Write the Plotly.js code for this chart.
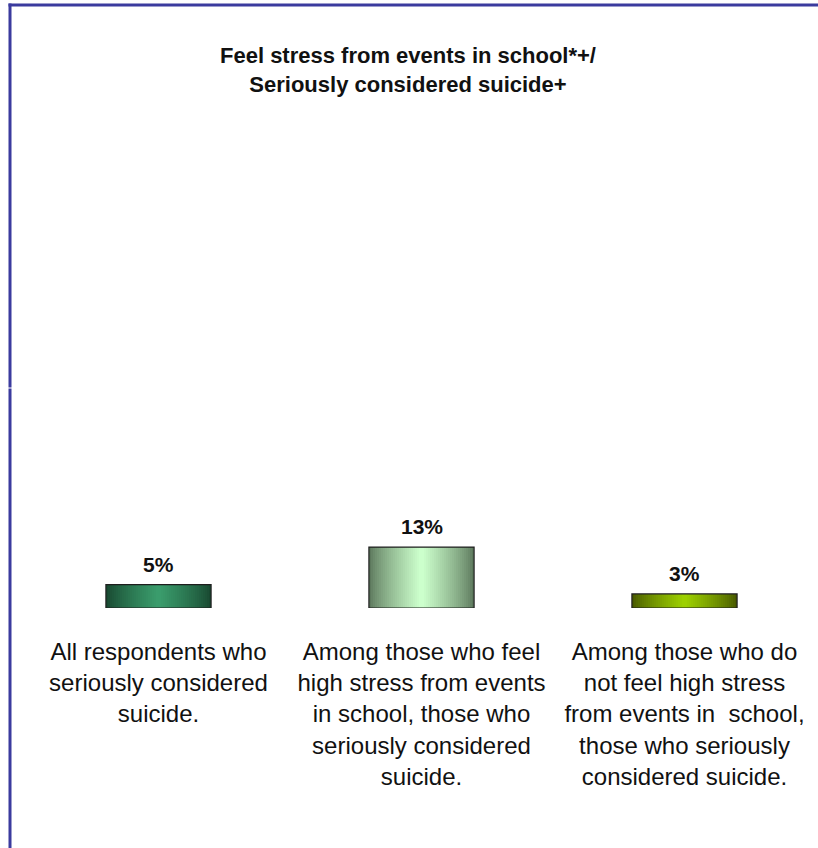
<!DOCTYPE html>
<html>
<head>
<meta charset="utf-8">
<script src="https://cdn.plot.ly/plotly-3.0.1.min.js"></script>
<style>
  html, body { margin: 0; padding: 0; background: #ffffff; }
  #chart { width: 818px; height: 848px; }
</style>
</head>
<body>
<div id="chart"></div>
<script>
// ---- Data ----
const categories = [
  "All respondents who<br>seriously considered<br>suicide.",
  "Among those who feel<br>high stress from events<br>in school, those who<br>seriously considered<br>suicide.",
  "Among those who do<br>not feel high stress<br>from events in\u00a0 school,<br>those who seriously<br>considered suicide."
];
const values = [5, 13, 3];
const valueLabels = ["5%", "13%", "3%"];
const titleText = "Feel stress from events in school*+/<br>Seriously considered suicide+";

// ---- Styles ----
const edgeColors   = [[24, 72, 48], [92, 120, 92], [72, 88, 0]];
const centerColors = [[58, 156, 108], [204, 255, 204], [156, 208, 0]];
const W = 818, H = 848;
const M = { l: 27, r: 2, t: 140, b: 240 };
const barWidth = 0.4;
const steps = 26;

const xIdx = categories.map((_, i) => i);

function mix(a, b, t) {
  return "rgb(" + a.map((v, j) => Math.round(v + (b[j] - v) * t)).join(",") + ")";
}

const traces = [];
for (let k = 0; k < steps; k++) {
  const t = k / (steps - 1);
  traces.push({
    type: "bar",
    x: xIdx,
    y: values,
    width: xIdx.map(() => barWidth * (1 - k / steps)),
    marker: {
      color: xIdx.map(i => mix(edgeColors[i], centerColors[i], Math.pow(t, 0.8))),
      line: { width: 0 }
    },
    hoverinfo: "skip",
    showlegend: false
  });
}
// outline on top
traces.push({
  type: "bar",
  x: xIdx,
  y: values,
  width: xIdx.map(() => barWidth),
  marker: { color: "rgba(0,0,0,0)", line: { width: 1.2, color: "#1e1e1e" } },
  hoverinfo: "skip",
  showlegend: false
});

const plotW = W - M.l - M.r, plotH = H - M.t - M.b;
const px = x => (x - M.l) / plotW;
const py = y => (H - M.b - y) / plotH;

const annotations = xIdx.map(i => ({
  x: i, y: values[i], xref: "x", yref: "y",
  text: valueLabels[i], showarrow: false,
  xanchor: "center", yanchor: "bottom", yshift: 7,
  font: { family: "Liberation Sans, Arial, sans-serif", size: 21, color: "#111111", weight: "bold" }
}));

const layout = {
  width: W, height: H,
  margin: M,
  paper_bgcolor: "#ffffff",
  plot_bgcolor: "#ffffff",
  barmode: "overlay",
  bargap: 0,
  title: {
    text: titleText,
    x: 408 / W, xref: "container", xanchor: "center",
    y: 1 - 63 / H, yref: "container", yanchor: "top",
    font: { family: "Liberation Sans, Arial, sans-serif", size: 22, color: "#111111", weight: "bold" }
  },
  xaxis: {
    range: [-0.5, 2.5],
    tickvals: xIdx,
    ticktext: categories,
    showgrid: false, zeroline: false, showline: false,
    ticks: "",
    tickfont: { family: "Liberation Sans, Arial, sans-serif", size: 24, color: "#111111" },
    ticklabelstandoff: 27,
    fixedrange: true
  },
  yaxis: {
    range: [0, 100],
    visible: false,
    fixedrange: true
  },
  annotations: annotations,
  shapes: [
    { type: "line", xref: "paper", yref: "paper", x0: px(10), x1: px(10), y0: py(3.5), y1: py(H + 5),
      line: { color: "#3b3b9e", width: 3 } },
    { type: "line", xref: "paper", yref: "paper", x0: px(8.5), x1: px(W + 5), y0: py(5), y1: py(5),
      line: { color: "#3b3b9e", width: 3 } },
    { type: "line", xref: "paper", yref: "paper", x0: px(8), x1: px(12), y0: py(388), y1: py(388),
      line: { color: "#ffffff", width: 1 } }
  ]
};

Plotly.newPlot("chart", traces, layout, { displayModeBar: false, staticPlot: true });
</script>
</body>
</html>
